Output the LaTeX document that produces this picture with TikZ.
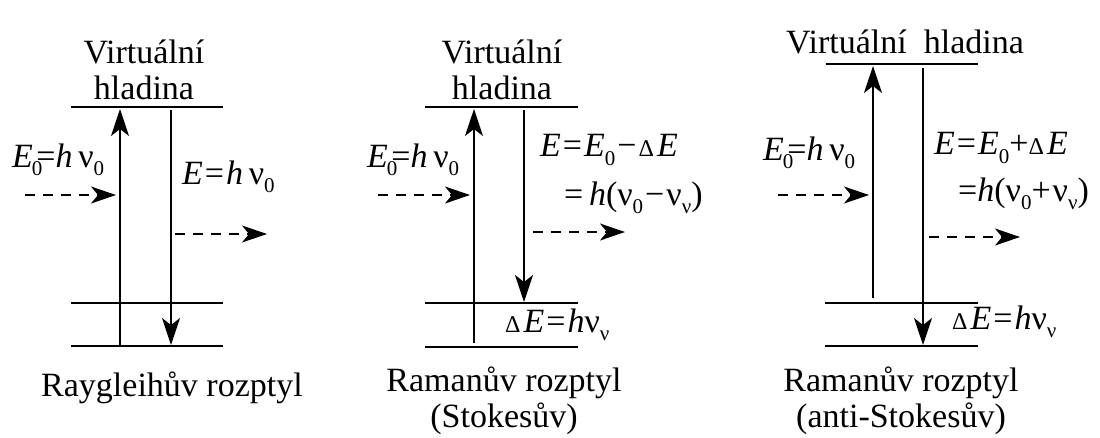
\documentclass[tikz,border=0pt]{standalone}
\usepackage{fontspec}
\setmainfont{Liberation Serif}
\usetikzlibrary{arrows.meta}
\newcommand{\lo}[1]{\raisebox{-0.55ex}{\fontsize{21}{21}\selectfont #1}}
\newcommand{\dlt}{{\fontsize{24}{24}\selectfont Δ}\kern3pt}
\newcommand{\nuu}{ν}
\newcommand{\eqs}{\kern2pt=\kern2pt}
\newcommand{\mns}{\kern2pt−\kern2pt}
\begin{document}
\begin{tikzpicture}[x=1pt,y=-1pt,
  lvl/.style={line width=1.6pt},
  trans/.style={line width=1.6pt,-{Stealth[length=27pt,width=18pt,inset=7pt]}},
  photon/.style={line width=1.5pt,dash pattern=on 10pt off 8pt,-{Stealth[length=25pt,width=17pt,inset=7pt]}},
  lbl/.style={font=\fontsize{34}{36}\selectfont, inner sep=0pt, align=center},
  eq/.style={font=\fontsize{34}{40}\selectfont, inner sep=0pt, anchor=west},
]
\useasboundingbox (0,0) rectangle (1100,437);
% ---------- panel 1 : Rayleigh ----------
\node[lbl] (v1) at (144,70) {Virtuální\\hladina};
\coordinate (t1a) at (71,107);  \coordinate (t1b) at (223,107);
\coordinate (m1a) at (71,303);  \coordinate (m1b) at (223,303);
\coordinate (b1a) at (71,346);  \coordinate (b1b) at (223,346);
\draw[lvl] (t1a) -- (t1b);
\draw[lvl] (m1a) -- (m1b);
\draw[lvl] (b1a) -- (b1b);
\coordinate (u1s) at (120,346); \coordinate (u1e) at (120,109);
\coordinate (d1s) at (171,110); \coordinate (d1e) at (171,345);
\draw[trans] (u1s) -- (u1e);
\draw[trans] (d1s) -- (d1e);
\coordinate (i1s) at (25,195);  \coordinate (i1e) at (116,195);
\coordinate (o1s) at (175,234); \coordinate (o1e) at (267,234);
\draw[photon] (i1s) -- (i1e);
\draw[photon] (o1s) -- (o1e);
\node[eq] (e1in) at (12,160) {\textit{E}\kern-1pt\lo{0}\kern-6pt=\textit{h}\,\nuu\lo{0}};
\node[eq] (e1out) at (182,177) {\textit{E}\eqs\textit{h}\,\nuu\lo{0}};
\node[lbl] (n1) at (172,388) {Raygleihův rozptyl};
% ---------- panel 2 : Stokes ----------
\node[lbl] (v2) at (502,70) {Virtuální\\hladina};
\coordinate (t2a) at (425,107); \coordinate (t2b) at (578,107);
\coordinate (m2a) at (425,303); \coordinate (m2b) at (578,303);
\coordinate (b2a) at (425,347); \coordinate (b2b) at (578,347);
\draw[lvl] (t2a) -- (t2b);
\draw[lvl] (m2a) -- (m2b);
\draw[lvl] (b2a) -- (b2b);
\coordinate (u2s) at (474,343); \coordinate (u2e) at (474,109);
\coordinate (d2s) at (524,110); \coordinate (d2e) at (524,302);
\draw[trans] (u2s) -- (u2e);
\draw[trans] (d2s) -- (d2e);
\coordinate (i2s) at (378,195); \coordinate (i2e) at (470,195);
\coordinate (o2s) at (533,232); \coordinate (o2e) at (625,232);
\draw[photon] (i2s) -- (i2e);
\draw[photon] (o2s) -- (o2e);
\node[eq] (e2in) at (367,160) {\textit{E}\kern-1pt\lo{0}\kern-6pt=\textit{h}\,\nuu\lo{0}};
\node[eq] (e2a) at (540,150) {\textit{E}\eqs\textit{E}\lo{0}\mns\dlt\textit{E}};
\node[eq] (e2b) at (564,198) {=\,\textit{h}(\nuu\lo{0}\mns\nuu\lo{ν})};
\node[eq] (e2c) at (505,325) {\dlt\textit{E}\eqs\textit{h}\nuu\lo{ν}};
\node[lbl] (n2) at (504,401) {Ramanův rozptyl\\(Stokesův)};
% ---------- panel 3 : anti-Stokes ----------
\node[lbl] (v3) at (905,42) {Virtuální\ \ hladina};
\coordinate (t3a) at (826,64);  \coordinate (t3b) at (978,64);
\coordinate (m3a) at (825,303); \coordinate (m3b) at (978,303);
\coordinate (b3a) at (825,346); \coordinate (b3b) at (978,346);
\draw[lvl] (t3a) -- (t3b);
\draw[lvl] (m3a) -- (m3b);
\draw[lvl] (b3a) -- (b3b);
\coordinate (u3s) at (873,298); \coordinate (u3e) at (873,66);
\coordinate (d3s) at (923,68);  \coordinate (d3e) at (923,345);
\draw[trans] (u3s) -- (u3e);
\draw[trans] (d3s) -- (d3e);
\coordinate (i3s) at (778,195); \coordinate (i3e) at (869,195);
\coordinate (o3s) at (929,237); \coordinate (o3e) at (1020,237);
\draw[photon] (i3s) -- (i3e);
\draw[photon] (o3s) -- (o3e);
\node[eq] (e3in) at (763,153) {\textit{E}\kern-1pt\lo{0}\kern-6pt=\textit{h}\,\nuu\lo{0}};
\node[eq] (e3a) at (934,148) {\textit{E}\eqs\textit{E}\lo{0}+\dlt\textit{E}};
\node[eq] (e3b) at (958,194) {=\textit{h}(\nuu\lo{0}+\kern2pt\nuu\lo{ν})};
\node[eq] (e3c) at (952,322) {\dlt\textit{E}\eqs\textit{h}\nuu\lo{ν}};
\node[lbl] (n3) at (901,401) {Ramanův rozptyl\\(anti-Stokesův)};
\end{tikzpicture}
\end{document}
